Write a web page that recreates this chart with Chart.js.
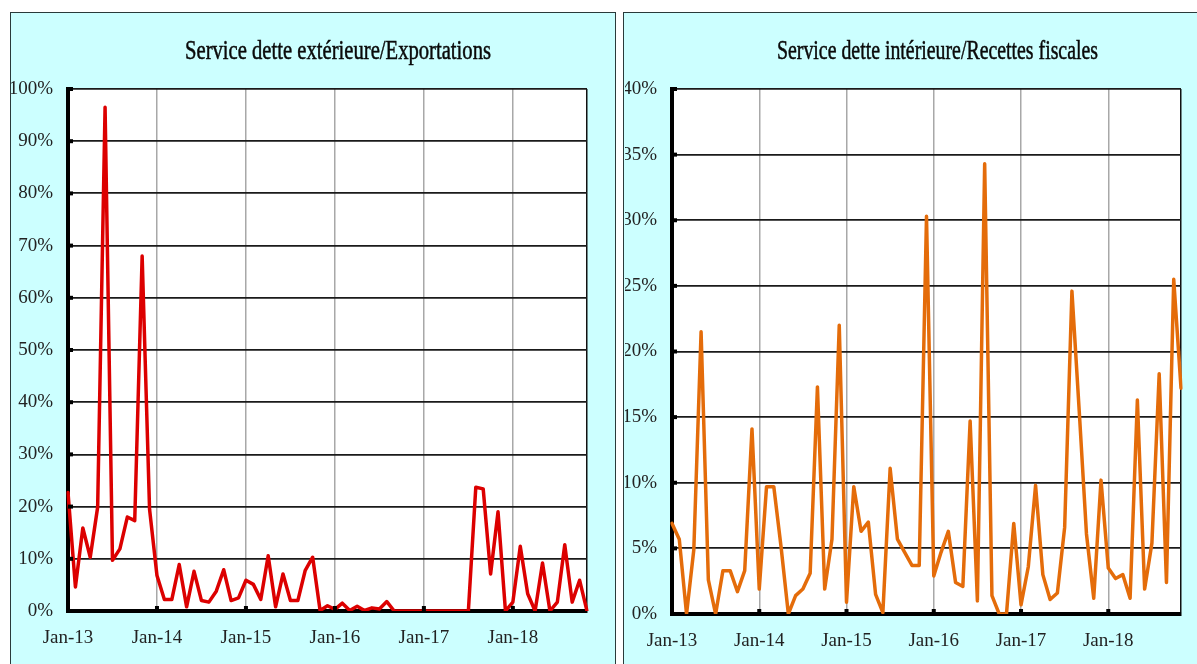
<!DOCTYPE html>
<html>
<head>
<meta charset="utf-8">
<script src="https://cdn.jsdelivr.net/npm/chart.js@4"></script>
<style>
  html, body { margin: 0; padding: 0; background: #ffffff; }
  body { width: 1197px; height: 664px; position: relative; overflow: hidden; }
  .panel { position: absolute; background: #CCFFFF; border: 1.5px solid #2a3a3a; box-sizing: border-box; }
  #p1 { left: 10px; top: 12px; width: 606px; height: 700px; }
  #p2 { left: 623px; top: 12px; width: 600px; height: 700px; }
  canvas { position: absolute; }
  #c1 { left: 11px; top: 13px; }
  #c2 { left: 625px; top: 13px; }
</style>
</head>
<body>
<div class="panel" id="p1"></div>
<div class="panel" id="p2"></div>
<canvas id="c1" width="603" height="651"></canvas>
<canvas id="c2" width="572" height="651"></canvas>
<script>
// ---- Data (monthly, Jan-13 .. Nov-18) ----
const months = [
  'Jan-13','Feb-13','Mar-13','Apr-13','May-13','Jun-13','Jul-13','Aug-13','Sep-13','Oct-13','Nov-13','Dec-13',
  'Jan-14','Feb-14','Mar-14','Apr-14','May-14','Jun-14','Jul-14','Aug-14','Sep-14','Oct-14','Nov-14','Dec-14',
  'Jan-15','Feb-15','Mar-15','Apr-15','May-15','Jun-15','Jul-15','Aug-15','Sep-15','Oct-15','Nov-15','Dec-15',
  'Jan-16','Feb-16','Mar-16','Apr-16','May-16','Jun-16','Jul-16','Aug-16','Sep-16','Oct-16','Nov-16','Dec-16',
  'Jan-17','Feb-17','Mar-17','Apr-17','May-17','Jun-17','Jul-17','Aug-17','Sep-17','Oct-17','Nov-17','Dec-17',
  'Jan-18','Feb-18','Mar-18','Apr-18','May-18','Jun-18','Jul-18','Aug-18','Sep-18','Oct-18','Nov-18'
];
const yearTickLabels = ['Jan-13','Jan-14','Jan-15','Jan-16','Jan-17','Jan-18'];

// Service dette extérieure / Exportations (%)
const serviceExterieur = [
  22.7, 4.6, 15.9, 10.3, 19.9, 96.5, 9.7, 11.9, 18.0, 17.3, 68.0, 19.5,
  6.8, 2.2, 2.2, 8.9, 0.8, 7.6, 2.0, 1.7, 3.8, 7.9, 2.0, 2.5,
  5.9, 5.1, 2.2, 10.6, 0.8, 7.1, 2.0, 2.0, 7.8, 10.3, 0.1, 1.0,
  0.3, 1.5, 0.1, 0.9, 0.1, 0.6, 0.4, 1.8, 0, 0, 0, 0,
  0, 0, 0, 0, 0, 0, 0, 23.7, 23.4, 7.1, 19.0, 0,
  1.7, 12.4, 3.3, 0, 9.2, 0, 1.7, 12.7, 1.7, 5.9, 0
];

// Service dette intérieure / Recettes fiscales (%)
const serviceInterieur = [
  6.9, 5.7, 0, 4.9, 21.5, 2.6, 0, 3.3, 3.3, 1.7, 3.3, 14.1,
  1.9, 9.7, 9.7, 5.1, 0, 1.4, 1.9, 3.1, 17.3, 1.9, 5.7, 22.0,
  0.9, 9.7, 6.3, 7.0, 1.5, 0.1, 11.1, 5.7, 4.7, 3.7, 3.7, 30.3,
  2.9, 4.7, 6.3, 2.4, 2.1, 14.7, 1.0, 34.3, 1.4, 0, 0, 6.9,
  0.7, 3.6, 9.8, 3.0, 1.1, 1.6, 6.6, 24.6, 15.5, 6.1, 1.2, 10.2,
  3.5, 2.7, 3.0, 1.2, 16.3, 1.9, 5.4, 18.3, 2.4, 25.5, 17.2
];

const titles = ['Service dette extérieure/Exportations', 'Service dette intérieure/Recettes fiscales'];

const FONT = "'Liberation Serif', 'Times New Roman', serif";

const plotBg = {
  id: 'plotBg',
  beforeDraw(chart) {
    const {ctx, chartArea: a} = chart;
    ctx.save();
    ctx.fillStyle = '#ffffff';
    ctx.fillRect(a.left, a.top, a.right - a.left, a.bottom - a.top);
    ctx.restore();
  }
};

const panelTitle = {
  id: 'panelTitle',
  afterDraw(chart, args, o) {
    const ctx = chart.ctx;
    ctx.save();
    ctx.font = o.size + 'px ' + FONT;
    ctx.fillStyle = '#0a0a0a';
    ctx.strokeStyle = '#0a0a0a';
    ctx.lineWidth = 0.5;
    ctx.textBaseline = 'alphabetic';
    const w = ctx.measureText(o.text).width;
    ctx.translate(o.x, o.baseline);
    ctx.scale(o.width / w, 1);
    ctx.fillText(o.text, 0, 0);
    ctx.strokeText(o.text, 0, 0);
    ctx.restore();
  }
};

const innerTicks = {
  id: 'innerTicks',
  afterDraw(chart) {
    const {ctx, chartArea: a, scales} = chart;
    ctx.save();
    ctx.fillStyle = '#000';
    scales.y.ticks.forEach((t, i) => {
      const y = scales.y.getPixelForTick(i);
      ctx.fillRect(a.left, y - 2, 5, 4);
    });
    scales.x.ticks.forEach((t, i) => {
      if (i % 12 === 0 && i > 0) {
        const x = scales.x.getPixelForTick(i);
        ctx.fillRect(x - 2, a.bottom - 5, 4, 5);
      }
    });
    ctx.restore();
  }
};

function makeChart(id, data, color, yMax, yStep, yAxisW, xAxisH, padRight, title) {
  return new Chart(document.getElementById(id), {
    type: 'line',
    data: {
      labels: months,
      datasets: [{
        data: data,
        borderColor: color,
        borderWidth: 3.5,
        pointRadius: 0,
        tension: 0,
        fill: false,
        borderJoinStyle: 'round',
        borderCapStyle: 'round'
      }]
    },
    options: {
      responsive: false,
      animation: false,
      events: [],
      layout: { padding: { top: 76, right: padRight, left: 0, bottom: 0 } },
      plugins: {
        legend: { display: false },
        tooltip: { enabled: false },
        title: { display: false },
        panelTitle: title
      },
      scales: {
        x: {
          type: 'category',
          offset: false,
          afterFit: s => { s.height = xAxisH; },
          border: { display: true, color: '#000', width: 4 },
          grid: {
            drawTicks: false,
            lineWidth: 1.5,
            color: c => (c.index % 12 === 0 ? '#a8a8a8' : (c.index === months.length - 1 ? '#111' : 'rgba(0,0,0,0)'))
          },
          ticks: {
            autoSkip: false,
            maxRotation: 0,
            minRotation: 0,
            padding: 16,
            color: '#222',
            font: { family: FONT, size: 19 },
            callback: (v, i) => (i % 12 === 0 ? yearTickLabels[i / 12] : '')
          }
        },
        y: {
          min: 0,
          max: yMax,
          afterFit: s => { s.width = yAxisW; },
          border: { display: true, color: '#000', width: 4 },
          grid: { drawTicks: false, color: '#1a1a1a', lineWidth: 1.8 },
          ticks: {
            stepSize: yStep,
            padding: 15,
            color: '#222',
            font: { family: FONT, size: 19 },
            callback: v => v + '%'
          }
        }
      }
    },
    plugins: [plotBg, panelTitle, innerTicks]
  });
}

makeChart('c1', serviceExterieur, '#DC0000', 100, 10, 57, 53, 27,
  { text: titles[0], x: 174, baseline: 46, width: 306, size: 27 });
makeChart('c2', serviceInterieur, '#E46C0A', 40, 5, 47, 50, 14,
  { text: titles[1], x: 152, baseline: 46, width: 321, size: 27 });
</script>
</body>
</html>
